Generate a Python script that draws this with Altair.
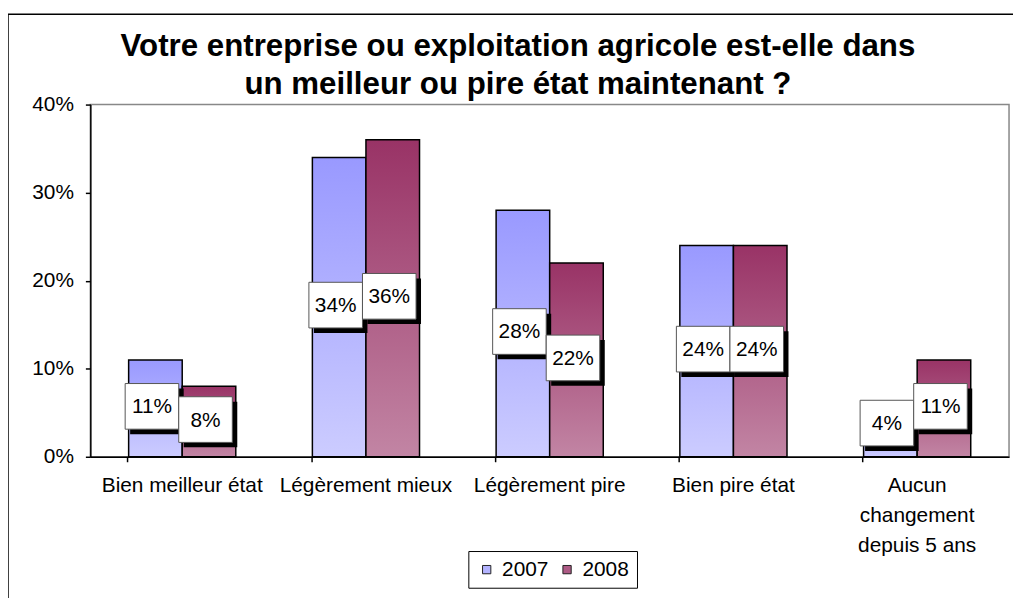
import altair as alt
import pandas as pd

categories = ["Bien meilleur état", "Légèrement mieux", "Légèrement pire",
              "Bien pire état", "Aucun changement depuis 5 ans"]
years = ["2007", "2008"]
v2007 = [11, 34, 28, 24, 4]
v2008 = [8, 36, 22, 24, 11]
y_ticks = [0, 10, 20, 30, 40]
title_lines = ["Votre entreprise ou exploitation agricole est-elle dans",
               "un meilleur ou pire état maintenant ?"]

rows = []
for c, a, b in zip(categories, v2007, v2008):
    rows.append({"cat": c, "year": "2007", "value": a})
    rows.append({"cat": c, "year": "2008", "value": b})
df = pd.DataFrame(rows)

FONT = "Liberation Sans"
W, H = 926, 355
BARW = 54

grad = {
    "2007": alt.Gradient(gradient="linear", x1=0, y1=0, x2=0, y2=1,
                         stops=[alt.GradientStop(offset=0, color="#9999FF"),
                                alt.GradientStop(offset=1, color="#CCCCFF")]),
    "2008": alt.Gradient(gradient="linear", x1=0, y1=0, x2=0, y2=1,
                         stops=[alt.GradientStop(offset=0, color="#993366"),
                                alt.GradientStop(offset=1, color="#C285A4")]),
}

label_expr = ("datum.label == 'Aucun changement depuis 5 ans' ? "
              "['Aucun', 'changement', 'depuis 5 ans'] : datum.label")

x_axis = alt.Axis(title=None, labelAngle=0, labelFont=FONT, labelFontSize=21,
                  labelColor="black", labelLineHeight=30, labelPadding=13,
                  tickSize=5, tickColor="black", tickWidth=1.5,
                  bandPosition=0, domainColor="black", domainWidth=1.5,
                  labelExpr=label_expr, labelBaseline="top")
y_axis = alt.Axis(title=None, values=y_ticks, labelFont=FONT, labelFontSize=21,
                  labelColor="black", labelExpr="datum.value + '%'",
                  tickSize=5, tickColor="black", tickWidth=1.5, labelPadding=12,
                  domainColor="black", domainWidth=1.5, grid=False)
y_scale = alt.Scale(domain=[0, 40], nice=False)

x_enc = alt.X("cat:N", sort=categories,
              scale=alt.Scale(paddingInner=0.41, paddingOuter=0.205), axis=x_axis)
y_enc = alt.Y("value:Q", scale=y_scale, axis=y_axis)
ymid = alt.Y("ymid:Q", scale=y_scale, axis=y_axis)

base = alt.Chart(df)

BOX = "M-1,-0.852L1,-0.852L1,0.852L-1,0.852Z"
layers = []

# outer frame
frame = alt.Chart(pd.DataFrame({"k": [0]})).mark_rect(
    fillOpacity=0, stroke="black", strokeWidth=1.5
).encode(x=alt.value(-83), x2=alt.value(1000), y=alt.value(-91), y2=alt.value(700))
layers.append(frame)

for yr, off in zip(years, [-BARW / 2, BARW / 2]):
    layers.append(
        base.transform_filter(f"datum.year == '{yr}'").mark_bar(
            width=BARW, xOffset=off, fill=grad[yr], stroke="black", strokeWidth=1.5
        ).encode(x=x_enc, y=y_enc)
    )

# legend (symbols only, no marks drawn)
legend_layer = base.transform_filter("false").mark_square(size=70, opacity=1).encode(
    x=x_enc, y=y_enc,
    color=alt.Color("year:N", scale=alt.Scale(domain=years, range=["#B3B3FF", "#AD5A85"]),
                    legend=alt.Legend(title=None, orient="none", direction="horizontal",
                                      legendX=381, legendY=450, strokeColor="black",
                                      padding=8, labelFont=FONT, labelFontSize=21,
                                      labelColor="black", symbolType="square", symbolSize=70,
                                      symbolStrokeColor="#222", symbolStrokeWidth=1,
                                      symbolOpacity=1, labelOffset=5, columnPadding=8))
)
layers.append(legend_layer)

for yr, off in zip(years, [-BARW / 2 - 3.5, BARW / 2 - 3.5]):
    lb = base.transform_filter(f"datum.year == '{yr}'").transform_calculate(
        ymid="max(datum.value / 2, 3.6)", lab="datum.value + '%'"
    )
    layers.append(lb.mark_point(shape=BOX, size=BARW * BARW, filled=True, fill="black",
                                stroke="black", strokeWidth=0, opacity=1,
                                xOffset=off + 5, yOffset=-2 + 5).encode(x=x_enc, y=ymid))
    layers.append(lb.mark_point(shape=BOX, size=BARW * BARW, filled=True, fill="white",
                                stroke="#555", strokeWidth=1, opacity=1,
                                xOffset=off, yOffset=-2).encode(x=x_enc, y=ymid))
    layers.append(lb.mark_text(font=FONT, fontSize=21, color="black", baseline="middle",
                               align="center", xOffset=off, yOffset=-1).encode(
        x=x_enc, y=ymid, text="lab:N"))

chart = alt.layer(*layers).properties(
    width=W, height=H,
    title=alt.TitleParams(text=title_lines, font=FONT, fontSize=31.5, fontWeight="bold",
                          color="black", anchor="middle", frame="group", dx=-32,
                          offset=-88, lineHeight=39),
    autosize=alt.AutoSizeParams(type="none"),
    padding={"left": 83, "top": 95, "right": 4, "bottom": 140},
    background="white",
).configure_view(stroke="#888", strokeWidth=1.5)

chart.save("out.html", embed_options={"renderer": "svg", "actions": False})
